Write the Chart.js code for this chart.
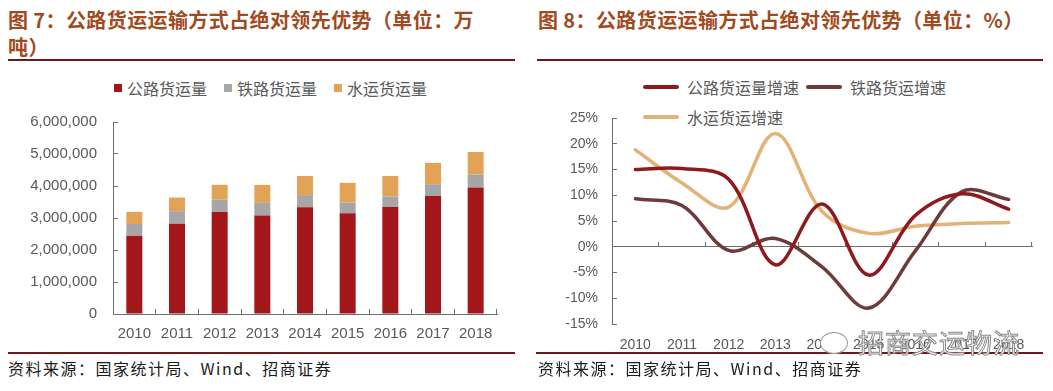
<!DOCTYPE html>
<html><head><meta charset="utf-8">
<script src="https://cdn.jsdelivr.net/npm/chart.js@4.4.1/dist/chart.umd.min.js"></script>
<style>
html,body{margin:0;padding:0;background:#fff;}
body{width:1053px;height:391px;position:relative;overflow:hidden;font-family:"Noto Sans CJK SC","Noto Sans",sans-serif;}
.title{position:absolute;top:6px;font-size:20px;line-height:27px;font-weight:700;color:#A04A1E;letter-spacing:0.4px;}
.rule{position:absolute;height:2px;background:#6B1A1A;}
.src{position:absolute;top:358px;font-size:16px;line-height:20px;color:#1a1a1a;letter-spacing:1.5px;white-space:nowrap;}
canvas{position:absolute;}
.legend{position:absolute;font-size:16px;color:#595959;white-space:nowrap;}
.row{display:flex;align-items:center;}
.item{display:flex;align-items:center;}
.sq{display:inline-block;width:8px;height:8px;margin-right:5px;}
.ln{display:inline-block;width:36px;height:4px;margin-right:8px;border-radius:2px;}
.wm{position:absolute;left:858px;top:327px;font-size:26px;line-height:30px;color:#fff;-webkit-text-stroke:1px #8a8a8a;letter-spacing:1px;z-index:10;white-space:nowrap;}
.wmicon{position:absolute;left:820px;top:332px;width:26px;height:20px;border:1.5px solid #9a9a9a;border-radius:50%;background:#fff;z-index:10;}
</style></head>
<body>
<div class="title" style="left:8px;width:485px;">图 7：公路货运运输方式占绝对领先优势（单位：万吨）</div>
<div class="rule" style="left:8px;top:59px;width:507px;"></div>
<div class="legend" id="lg1" style="left:114px;top:78px;"></div>
<canvas id="c1" width="525" height="250" style="left:0;top:100px;"></canvas>
<div class="rule" style="left:8px;top:352px;width:507px;"></div>
<div class="src" style="left:8px;">资料来源：国家统计局、Wind、招商证券</div>

<div class="title" style="left:538px;width:510px;">图 8：公路货运运输方式占绝对领先优势（单位：%）</div>
<div class="rule" style="left:537px;top:59px;width:506px;"></div>
<div class="legend" id="lg2" style="left:643px;top:72px;"></div>
<canvas id="c2" width="523" height="250" style="left:530px;top:100px;"></canvas>
<div class="rule" style="left:536px;top:352px;width:507px;"></div>
<div class="src" style="left:538px;">资料来源：国家统计局、Wind、招商证券</div>
<div class="wmicon"></div>
<div class="wm">招商交运物流</div>

<script>
const years = ['2010','2011','2012','2013','2014','2015','2016','2017','2018'];
const volumeNames = ['公路货运量','铁路货运量','水运货运量'];
const roadVolume = [2448052, 2820100, 3188475, 3076648, 3332838, 3150019, 3341259, 3686858, 3956871];
const railVolume = [364271, 393263, 390438, 396697, 381334, 335801, 333186, 368865, 402631];
const waterVolume = [378949, 425968, 458705, 559785, 598283, 613567, 638238, 667846, 702684];
const growthNames = ['公路货运量增速','铁路货运增速','水运货运增速'];
const roadGrowth = [15.0, 15.2, 13.1, -3.5, 8.3, -5.5, 6.1, 10.3, 7.3];
const railGrowth = [9.3, 8.0, -0.7, 1.6, -3.9, -11.9, -0.8, 10.7, 9.2];
const waterGrowth = [18.8, 12.4, 7.7, 22.0, 6.9, 2.6, 4.0, 4.5, 4.7];

const barColors = ['#A3161A','#A6A6A6','#E3A356'];
const lineColors = ['#8E1A1E','#6E3A3A','#E2B276'];
const axisColor = '#6f6f6f';
const tickColor = '#595959';

Chart.defaults.font.family = '"Liberation Sans", Arial, sans-serif';
Chart.defaults.color = tickColor;

function fmt(v){ return String(v).replace(/\B(?=(\d{3})+(?!\d))/g, ','); }

// HTML legends
const lg1 = document.getElementById('lg1');
const r1 = document.createElement('div'); r1.className='row'; r1.style.height='20px'; lg1.appendChild(r1);
volumeNames.forEach((n,i)=>{
  const s = document.createElement('span'); s.className='item';
  if(i>0) s.style.marginLeft='17px';
  s.innerHTML = '<span class="sq" style="background:'+barColors[i]+'"></span><span>'+n+'</span>';
  r1.appendChild(s);
});
const lg2 = document.getElementById('lg2');
let row = null;
growthNames.forEach((n,i)=>{
  if(i===0 || i===2){ row = document.createElement('div'); row.className='row'; row.style.height='30px'; lg2.appendChild(row); }
  const s = document.createElement('span'); s.className='item';
  if(i===1) s.style.marginLeft='7px';
  s.innerHTML = '<span class="ln" style="background:'+lineColors[i]+'"></span><span>'+n+'</span>';
  row.appendChild(s);
});

function fixY(width){
  return s => { s.width = width; s.paddingTop = 0; s.paddingBottom = 0; };
}

new Chart(document.getElementById('c1'), {
  type:'bar',
  data:{labels:years, datasets:[
    {label:volumeNames[0], data:roadVolume, backgroundColor:barColors[0]},
    {label:volumeNames[1], data:railVolume, backgroundColor:barColors[1]},
    {label:volumeNames[2], data:waterVolume, backgroundColor:barColors[2]}
  ]},
  options:{
    responsive:false, animation:false,
    layout:{padding:{top:22,right:28,bottom:0,left:0}},
    plugins:{legend:{display:false}, tooltip:{enabled:false}},
    datasets:{bar:{categoryPercentage:0.75, barPercentage:0.5}},
    scales:{
      x:{stacked:true,
         grid:{display:true, drawOnChartArea:false, drawTicks:true, tickLength:-5, offset:true, color:axisColor},
         border:{color:axisColor},
         ticks:{padding:16, font:{size:15}, color:tickColor, maxRotation:0},
         afterFit:s=>{s.height=36;}},
      y:{stacked:true, min:0, max:6000000,
         ticks:{stepSize:1000000, padding:21, font:{size:15}, color:tickColor, callback:v=>fmt(v)},
         grid:{drawOnChartArea:false, tickLength:-5, color:axisColor},
         border:{color:axisColor},
         afterFit:fixY(113)}
    }
  }
});

new Chart(document.getElementById('c2'), {
  type:'line',
  data:{labels:years, datasets:[
    {label:growthNames[0], data:roadGrowth, borderColor:lineColors[0], backgroundColor:lineColors[0]},
    {label:growthNames[1], data:railGrowth, borderColor:lineColors[1], backgroundColor:lineColors[1]},
    {label:growthNames[2], data:waterGrowth, borderColor:lineColors[2], backgroundColor:lineColors[2]}
  ]},
  options:{
    responsive:false, animation:false,
    layout:{padding:{top:18,right:21,bottom:0,left:0}},
    elements:{line:{tension:0.35, borderWidth:3.5, fill:false, borderCapStyle:'round'}, point:{radius:0, hoverRadius:0}},
    plugins:{legend:{display:false}, tooltip:{enabled:false}},
    scales:{
      x:{offset:true, grid:{display:false, drawTicks:false}, border:{display:false},
         ticks:{padding:13, font:{size:14}, color:tickColor, maxRotation:0},
         afterFit:s=>{s.height=26;}},
      x2:{type:'category', position:{y:0}, offset:true,
         grid:{offset:true, drawOnChartArea:false, drawTicks:true, tickLength:-5, color:axisColor},
         border:{display:true, color:axisColor}, ticks:{display:false}},
      y:{min:-15, max:25,
         ticks:{stepSize:5, padding:19, font:{size:14}, color:tickColor, callback:v=>v+'%'},
         grid:{drawOnChartArea:false, tickLength:-5, color:axisColor},
         border:{color:axisColor},
         afterFit:fixY(82)}
    }
  }
});
</script>
</body></html>
